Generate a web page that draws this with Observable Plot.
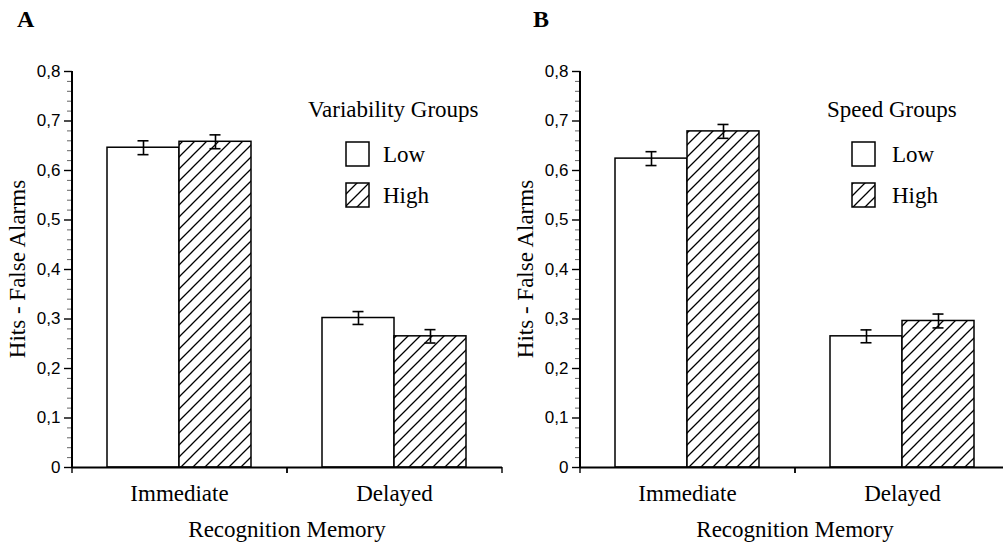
<!DOCTYPE html>
<html>
<head>
<meta charset="utf-8">
<script src="https://cdn.jsdelivr.net/npm/d3@7"></script>
<script src="https://cdn.jsdelivr.net/npm/@observablehq/plot@0.6"></script>
<style>
  html, body { margin: 0; padding: 0; background: #fff; }
  #root { position: relative; width: 1003px; height: 545px; overflow: hidden; background: #fff; }
  .panel { position: absolute; top: 0; width: 510px; height: 545px; }
  .panel svg { position: absolute; left: 0; top: 0; }
</style>
</head>
<body>
<div id="root"></div>
<script>
// ---- data ----
const groups = ["Immediate", "Delayed"];
const levels = ["Low", "High"];
const panelLetters = ["A", "B"];
const legendTitles = ["Variability Groups", "Speed Groups"];
const xTitle = "Recognition Memory";
const yTitle = "Hits - False Alarms";

const lowA = [0.646, 0.302];
const highA = [0.658, 0.265];
const errLowA = [0.014, 0.013];
const errHighA = [0.014, 0.0135];

const lowB = [0.624, 0.265];
const highB = [0.679, 0.296];
const errLowB = [0.014, 0.013];
const errHighB = [0.014, 0.014];

const yTicks = [0, 0.1, 0.2, 0.3, 0.4, 0.5, 0.6, 0.7, 0.8];
const yMinorTicks = d3.range(0, 41).filter(k => k % 5 !== 0).map(k => k / 50);

// ---- layout ----
const SERIF = "Liberation Serif, Times New Roman, serif";
const SANS = "Liberation Sans, Arial, sans-serif";
const W = 510, H = 545;
const panelLeft = [0, 508];
const letterX = [17, 25];
const legendTitleX = [308, 319];
const legendBoxX = [346, 344];
const legendTextX = [383, 384];

const fmt = d => d === 0 ? "0" : d.toFixed(1).replace(".", ",");

function makePanel(i, low, high, errLow, errHigh) {
  const lowData = groups.map((g, j) => ({group: g, level: levels[0], value: low[j], err: errLow[j]}));
  const highData = groups.map((g, j) => ({group: g, level: levels[1], value: high[j], err: errHigh[j]}));
  const hatchId = "hatch" + panelLetters[i];

  const svg = Plot.plot({
    width: W, height: H,
    marginLeft: 72, marginRight: 8, marginTop: 71, marginBottom: 78,
    style: {fontFamily: SANS, fontSize: "17px", background: "transparent", overflow: "visible", color: "#000"},
    x: {domain: groups, paddingInner: 0.33, paddingOuter: 0.165, label: null},
    y: {domain: [0, 0.8], label: null},
    marks: [
      Plot.barY(lowData, {x: "group", y1: 0, y2: "value", insetRight: 72, fill: "#fff", stroke: "#000", strokeWidth: 1.5}),
      Plot.barY(highData, {x: "group", y1: 0, y2: "value", insetLeft: 72, fill: `url(#${hatchId})`, stroke: "#000", strokeWidth: 1.5}),
      // error bars
      Plot.ruleX(lowData, {x: "group", y1: d => d.value - d.err, y2: d => d.value + d.err, dx: -36, stroke: "#000", strokeWidth: 1.6}),
      Plot.ruleX(highData, {x: "group", y1: d => d.value - d.err, y2: d => d.value + d.err, dx: 36, stroke: "#000", strokeWidth: 1.6}),
      Plot.tickY(lowData, {x: "group", y: d => d.value + d.err, insetLeft: 30.5, insetRight: 102.5, stroke: "#000", strokeWidth: 1.6}),
      Plot.tickY(lowData, {x: "group", y: d => d.value - d.err, insetLeft: 30.5, insetRight: 102.5, stroke: "#000", strokeWidth: 1.6}),
      Plot.tickY(highData, {x: "group", y: d => d.value + d.err, insetLeft: 102.5, insetRight: 30.5, stroke: "#000", strokeWidth: 1.6}),
      Plot.tickY(highData, {x: "group", y: d => d.value - d.err, insetLeft: 102.5, insetRight: 30.5, stroke: "#000", strokeWidth: 1.6}),
      // axes
      Plot.axisY({ticks: yMinorTicks, tickSize: 5, fill: "none", label: null, stroke: "#666", strokeWidth: 1}),
      Plot.axisY({ticks: yTicks, tickSize: 8, tickPadding: 4, tickFormat: fmt, label: null, stroke: "#000", strokeWidth: 1.4, fontSize: 17}),
      Plot.axisX({tickSize: 0, tickPadding: 17, label: null, fontSize: 23}),
      Plot.axisX({tickSize: 6, fill: "none", label: null, dx: -107.5, stroke: "#000", strokeWidth: 1.4}),
      Plot.axisX({tickSize: 6, fill: "none", label: null, dx: 107.5, stroke: "#000", strokeWidth: 1.4}),
      Plot.ruleX([groups[0]], {x: d => d, dx: -107.5, stroke: "#000", strokeWidth: 2}),
      Plot.ruleY([0], {stroke: "#000", strokeWidth: 2})
    ]
  });

  d3.select(svg).insert("defs", ":first-child").html(
    `<pattern id="${hatchId}" patternUnits="userSpaceOnUse" width="12" height="12">
       <rect width="12" height="12" fill="#fff"/>
       <path d="M-3,3 L3,-3 M0,12 L12,0 M9,15 L15,9" stroke="#000" stroke-width="1.3"/>
     </pattern>`);

  // serif font for category labels
  d3.select(svg).selectAll("text").each(function() {
    if (groups.includes(this.textContent.trim())) {
      this.setAttribute("font-family", SERIF);
      this.style.setProperty("font-family", SERIF, "important");
      this.style.setProperty("font-size", "23px");
      const g = this.parentNode;
      if (g && g.tagName.toLowerCase() === "g") {
        g.setAttribute("font-family", SERIF);
        g.style.setProperty("font-family", SERIF, "important");
      }
    }
  });

  const div = d3.select("#root").append("div").attr("class", "panel").style("left", panelLeft[i] + "px");
  div.node().appendChild(svg);

  const ov = div.append("svg").attr("width", W).attr("height", H)
    .style("overflow", "visible").attr("font-family", SERIF).attr("fill", "#000");

  const addText = (x, y, size, str) => ov.append("text").attr("x", x).attr("y", y)
    .attr("font-family", SERIF).attr("font-size", size).text(str);

  addText(letterX[i], 27, 24, panelLetters[i]).attr("font-weight", "bold");
  addText(0, 0, 23, yTitle).attr("transform", "translate(25,269) rotate(-90)").attr("text-anchor", "middle");
  addText(287, 537, 23, xTitle).attr("text-anchor", "middle");
  addText(legendTitleX[i], 117, 23, legendTitles[i]);

  const fills = ["#fff", `url(#${hatchId})`];
  const rowY = [142, 183];
  levels.forEach((lv, k) => {
    ov.append("rect").attr("x", legendBoxX[i]).attr("y", rowY[k]).attr("width", 23).attr("height", 24)
      .attr("fill", fills[k]).attr("stroke", "#000").attr("stroke-width", 1.5);
    addText(legendTextX[i], rowY[k] + 20, 23, lv);
  });
}

makePanel(0, lowA, highA, errLowA, errHighA);
makePanel(1, lowB, highB, errLowB, errHighB);
</script>
</body>
</html>
